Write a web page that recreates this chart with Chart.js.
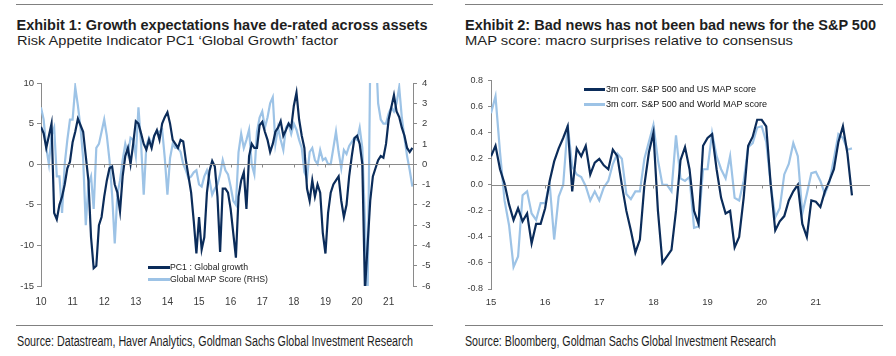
<!DOCTYPE html>
<html><head><meta charset="utf-8">
<script src="https://cdn.jsdelivr.net/npm/chart.js@4.4.1/dist/chart.umd.min.js"></script>
<style>
html,body{margin:0;padding:0;background:#fff;width:896px;height:356px;overflow:hidden;}
body{position:relative;font-family:"Liberation Sans Narrow","Liberation Sans",Arial,sans-serif;color:#1e1e1e;}
.t{position:absolute;white-space:nowrap;transform-origin:0 0;display:inline-block;}
.rule{position:absolute;height:1px;background:#808080;}
.cv{position:absolute;}
.sw{position:absolute;height:2.5px;}
.lg{position:absolute;white-space:nowrap;transform-origin:0 0;display:inline-block;font-family:"Liberation Sans",Arial,sans-serif;}
</style></head><body>

<div class="rule" style="left:16px;top:4px;width:417px"></div>
<div class="rule" style="left:465px;top:4px;width:418px"></div>
<div class="t" data-w="411" style="left:16.5px;top:17.5px;font-size:14.5px;line-height:14px;font-weight:bold">Exhibit 1: Growth expectations have de-rated across assets</div>
<div class="t" data-w="321" style="left:16.5px;top:33.7px;font-size:13px;line-height:13px">Risk Appetite Indicator PC1 ‘Global Growth’ factor</div>
<div class="t" data-w="411" style="left:465px;top:17.5px;font-size:14.5px;line-height:14px;font-weight:bold">Exhibit 2: Bad news has not been bad news for the S&amp;P 500</div>
<div class="t" data-w="328" style="left:465px;top:33.7px;font-size:13px;line-height:13px">MAP score: macro surprises relative to consensus</div>

<canvas id="c1" class="cv" style="left:0;top:60px;width:440px;height:250px" width="440" height="250"></canvas>
<canvas id="c2" class="cv" style="left:448px;top:60px;width:440px;height:250px" width="440" height="250"></canvas>

<div class="sw" style="left:148px;top:266px;width:22px;background:#0b2c5a"></div>
<div class="lg" data-w="78" style="left:170px;top:262px;font-size:9.5px;line-height:10px;color:#222">PC1 : Global growth</div>
<div class="sw" style="left:148px;top:278px;width:22px;background:#9dc3e6"></div>
<div class="lg" data-w="98" style="left:170px;top:274px;font-size:9.5px;line-height:10px;color:#222">Global MAP Score (RHS)</div>

<div class="sw" style="left:584px;top:88px;width:21px;background:#0b2c5a"></div>
<div class="lg" data-w="150" style="left:606px;top:84px;font-size:9px;line-height:10px;color:#111">3m corr. S&amp;P 500 and US MAP score</div>
<div class="sw" style="left:584px;top:103px;width:21px;background:#9dc3e6"></div>
<div class="lg" data-w="161" style="left:606px;top:99px;font-size:9px;line-height:10px;color:#111">3m corr. S&amp;P 500 and World MAP score</div>

<div class="rule" style="left:16px;top:325px;width:417px"></div>
<div class="rule" style="left:465px;top:325px;width:418px"></div>
<div class="t" data-w="396" style="left:16.5px;top:334.4px;font-size:14px;line-height:14px">Source: Datastream, Haver Analytics, Goldman Sachs Global Investment Research</div>
<div class="t" data-w="311" style="left:465px;top:334.4px;font-size:14px;line-height:14px">Source: Bloomberg, Goldman Sachs Global Investment Research</div>

<script>
// ---------- Exhibit 1 data (monthly, from Jan 2010) ----------
const ex1StartYear = 2010;
const ex1TickYears = [2010, 2011, 2012, 2013, 2014, 2015, 2016, 2017, 2018, 2019, 2020, 2021];
const ex1TickLabels = ['10', '11', '12', '13', '14', '15', '16', '17', '18', '19', '20', '21'];
const pc1GlobalGrowth = [
  4.6, 3.8, 2.0, 3.5, 5.0, -6.0, -6.8, -5.0, -4.0, -2.5, -0.5, 0.3,
  2.7, 4.0, 5.6, 4.8, 4.0, 1.0, -2.0, -9.0, -12.8, -12.5, -7.5, -6.5,
  -4.0, -2.0, -0.5, -0.3, -2.5, -3.5, -5.8, -1.5, 1.0, 2.0, 0.0, 2.5,
  5.3, 5.0, 3.8, 2.5, 1.8, 3.0, 2.0, 3.5, 4.2, 3.0, 5.0, 5.8,
  6.4, 5.0, 3.0, 2.5, 2.0, 3.0, 2.8, 0.5, -1.5, -3.5, -7.0, -11.0,
  -6.5, -10.5, -9.0, -3.5, -0.8, 0.4, -0.3, -4.0, -10.8, -3.0, -3.0, -3.5,
  -5.5, -8.5, -11.5, -4.0, -2.0, -1.0, -5.5, 1.0, 2.5, 2.0, 2.0, 4.8,
  5.2, 4.0, 3.0, 1.5, 2.5, 4.0, 4.5, 5.3, 3.5, 4.2, 5.0, 4.5,
  7.2, 8.8, 5.5, 3.5, 2.0, -3.0, -4.5, -2.0, -4.0, -2.5, -3.5, -8.5,
  -11.0, -6.0, -3.5, -2.5, -2.0, -1.5, -4.5, -6.5, -5.0, -1.5, 1.0, 3.2,
  3.5, 2.5, 0.0, -15.5, -10.0, -4.5, -1.5, -0.5, 0.5, 1.0, 0.8, 2.5,
  5.5, 7.0, 8.5, 6.5, 5.8, 4.5, 3.5, 2.0, 1.5, 2.0
];
const globalMapScore = [
  2.8, 2.2, 0.8, 0.0, 1.4, 1.8, -0.6, -0.6, -2.4, 0.0, 1.2, 2.2,
  2.2, 3.8, 2.9, 1.8, 0.3, -3.0, -1.0, -0.6, -2.2, 0.8, 1.0, 1.6,
  2.2, 1.4, 0.2, -1.5, -3.9, -1.5, -0.8, 0.2, 1.0, 0.5, 1.3, 1.2,
  0.4, 2.8, 1.0, -1.5, 0.9, 1.3, 1.0, 1.4, 1.6, 1.6, 1.7, 0.3,
  -1.5, 0.3, 1.0, 0.8, 0.8, 0.6, 0.0, -0.3, -0.7, -0.6, -0.4, -0.3,
  -1.0, -1.1, -0.6, -0.3, -0.8, -1.5, -1.2, -1.0, -0.5, 0.2, -0.3, -0.5,
  -1.1, -1.8, -2.0, 0.6, 1.5, 0.8, 1.2, 1.7, 0.0, -0.5, 1.6, 2.3,
  2.6, 1.8, 2.3, 3.0, 3.3, 1.0, 1.8, 1.2, 0.7, 1.8, 2.0, 1.5,
  2.0, 1.7, 1.2, 0.8, -0.4, -0.7, 0.6, 0.8, 0.2, 0.0, 0.7, 0.2,
  0.3, 0.0, 0.0, 0.8, 1.6, 0.6, -0.2, 0.7, 0.5, 0.9, 1.1, 1.3,
  1.2, 1.8, 0.8, -2.8, -6.5, 5.0, 6.0, 6.0, 3.0, 2.2, 2.0, 2.0,
  2.5, 2.8, 2.6, 3.0, 3.8, 2.3, 1.3, 0.4, -0.3, -1.1
];
const ex1LeftTicks = [10, 5, 0, -5, -10, -15];
const ex1RightTicks = [4, 3, 2, 1, 0, -1, -2, -3, -4, -5, -6];

// ---------- Exhibit 2 data (monthly, from Jan 2015) ----------
const ex2StartYear = 2015;
const ex2TickYears = [2015, 2016, 2017, 2018, 2019, 2020, 2021];
const ex2TickLabels = ['15', '16', '17', '18', '19', '20', '21'];
const corrUsMap = [
  0.22, 0.30, 0.12, 0.01, -0.15, -0.27, -0.18, -0.28, -0.22, -0.45, -0.30, -0.30,
  -0.18, 0.03, 0.18, 0.28, 0.36, 0.45, -0.05, 0.28, 0.22, 0.30, 0.08, 0.17,
  0.20, 0.15, 0.12, 0.27, 0.22, 0.00, -0.20, -0.35, -0.52, -0.42, 0.00, 0.25,
  0.40, -0.20, -0.60, -0.55, -0.50, -0.20, 0.19, 0.29, 0.12, -0.20, -0.30, 0.30,
  0.36, 0.39, 0.12, -0.10, -0.22, -0.20, -0.48, -0.40, -0.10, 0.30, 0.37, 0.50,
  0.50, 0.45, 0.00, -0.35, -0.28, -0.24, -0.12, -0.05, 0.00, -0.30, -0.40, -0.12,
  -0.13, -0.17, -0.05, 0.03, 0.12, 0.33, 0.45, 0.24, -0.08
];
const corrWorldMap = [
  0.55, 0.68, 0.25, -0.12, -0.31, -0.63, -0.55, -0.08, -0.05, -0.22, -0.27, -0.14,
  -0.14, 0.01, -0.42, -0.09, 0.00, 0.46, 0.14, 0.08, 0.06, -0.01, -0.12, -0.05,
  -0.12, -0.02, 0.03, 0.16, 0.24, 0.20, -0.07, -0.11, -0.05, -0.05, 0.20, 0.33,
  0.46, 0.19, 0.00, 0.00, -0.05, 0.38, 0.05, 0.03, 0.06, -0.33, -0.32, 0.12,
  0.12, 0.40, 0.22, 0.12, 0.05, 0.22, -0.10, -0.12, 0.03, 0.29, 0.32, 0.44,
  0.45, 0.33, 0.00, -0.25, -0.18, 0.08, 0.16, 0.32, 0.22, -0.22, -0.07, 0.09,
  0.10, 0.03, -0.07, 0.02, 0.20, 0.39, 0.36, 0.27, 0.28
];
const ex2YTicks = [0.8, 0.6, 0.4, 0.2, 0.0, -0.2, -0.4, -0.6, -0.8];

// ---------- styling ----------
const DARK = '#0b2c5a', LIGHT = '#9dc3e6', AXIS = '#8a8a8a', TICKTXT = '#3a3a3a';
Chart.defaults.font.family = '"Liberation Sans", Arial, sans-serif';
Chart.defaults.animation = false;
Chart.defaults.responsive = false;

const toPoints = (arr, start) => arr.map((v, i) => ({ x: start + i / 12, y: v }));

const zeroTicks = {
  id: 'zeroTicks',
  afterDatasetsDraw(chart, args, opts) {
    const xs = chart.scales.x, ys = chart.scales[opts.yId || 'y'];
    const y0 = Math.round(ys.getPixelForValue(0)) + 0.5;
    const ctx = chart.ctx;
    ctx.save();
    ctx.strokeStyle = AXIS; ctx.lineWidth = 1;
    ctx.beginPath();
    ctx.moveTo(chart.chartArea.left, y0); ctx.lineTo(chart.chartArea.right, y0);
    opts.years.forEach(yr => {
      if (yr === xs.min) return;
      const px = Math.round(xs.getPixelForValue(yr)) + 0.5;
      ctx.moveTo(px, y0); ctx.lineTo(px, y0 + 3);
    });
    ctx.stroke();
    ctx.restore();
  }
};

function yTicksFrom(list) {
  return function (scale) {
    scale.ticks = list.map(v => ({ value: v }));
  };
}

new Chart(document.getElementById('c1'), {
  type: 'line',
  data: {
    datasets: [
      { label: 'PC1 : Global growth', data: toPoints(pc1GlobalGrowth, ex1StartYear), yAxisID: 'y',
        borderColor: DARK, borderWidth: 2.2, pointRadius: 0, tension: 0, order: 1 },
      { label: 'Global MAP Score (RHS)', data: toPoints(globalMapScore, ex1StartYear), yAxisID: 'y2',
        borderColor: LIGHT, borderWidth: 2.2, pointRadius: 0, tension: 0, order: 2 }
    ]
  },
  options: {
    layout: { padding: { top: 23, left: 0, right: 0, bottom: 0 } },
    plugins: { legend: { display: false }, tooltip: { enabled: false },
      zeroTicks: { years: ex1TickYears, yId: 'y' } },
    scales: {
      x: { type: 'linear', min: 2010, max: 2021.77,
        grid: { display: false }, border: { display: false },
        afterFit: s => { s.height = 24; },
        afterBuildTicks: s => { s.ticks = ex1TickYears.map(v => ({ value: v })); },
        ticks: { padding: 2, color: TICKTXT, font: { size: 10 }, maxRotation: 0, autoSkip: false,
          callback: v => ex1TickLabels[ex1TickYears.indexOf(v)] } },
      y: { position: 'left', min: -15, max: 10,
        grid: { drawOnChartArea: false, tickLength: 4, color: AXIS },
        border: { display: true, color: AXIS },
        afterFit: s => { s.width = 41; },
        afterBuildTicks: yTicksFrom(ex1LeftTicks),
        ticks: { padding: 3, color: TICKTXT, font: { size: 9.5 }, callback: v => String(v) } },
      y2: { position: 'right', min: -6, max: 4,
        grid: { drawOnChartArea: false, tickLength: 4, color: AXIS },
        border: { display: true, color: AXIS },
        afterFit: s => { s.width = 27; },
        afterBuildTicks: yTicksFrom(ex1RightTicks),
        ticks: { padding: 5, color: TICKTXT, font: { size: 9.5 }, callback: v => String(v) } }
    }
  },
  plugins: [zeroTicks]
});

new Chart(document.getElementById('c2'), {
  type: 'line',
  data: {
    datasets: [
      { label: '3m corr. S&P 500 and US MAP score', data: toPoints(corrUsMap, ex2StartYear), yAxisID: 'y',
        borderColor: DARK, borderWidth: 2.2, pointRadius: 0, tension: 0, order: 1 },
      { label: '3m corr. S&P 500 and World MAP score', data: toPoints(corrWorldMap, ex2StartYear), yAxisID: 'y',
        borderColor: LIGHT, borderWidth: 2.2, pointRadius: 0, tension: 0, order: 2 }
    ]
  },
  options: {
    layout: { padding: { top: 20.7, left: 0, right: 18, bottom: 0 } },
    plugins: { legend: { display: false }, tooltip: { enabled: false },
      zeroTicks: { years: ex2TickYears, yId: 'y' } },
    scales: {
      x: { type: 'linear', min: 2015, max: 2022,
        grid: { display: false }, border: { display: false },
        afterFit: s => { s.height = 21; },
        afterBuildTicks: s => { s.ticks = ex2TickYears.map(v => ({ value: v })); },
        ticks: { padding: 0, color: TICKTXT, font: { size: 9.5 }, maxRotation: 0, autoSkip: false,
          callback: v => ex2TickLabels[ex2TickYears.indexOf(v)] } },
      y: { position: 'left', min: -0.8, max: 0.8,
        grid: { drawOnChartArea: false, tickLength: 3, color: AXIS },
        border: { display: true, color: AXIS },
        afterFit: s => { s.width = 43; },
        afterBuildTicks: yTicksFrom(ex2YTicks),
        ticks: { padding: 5, color: TICKTXT, font: { size: 9 }, callback: v => Number(v).toFixed(1) } }
    }
  },
  plugins: [zeroTicks]
});

// fit text widths to the reference layout
document.querySelectorAll('[data-w]').forEach(el => {
  const w = el.getBoundingClientRect().width;
  const target = parseFloat(el.dataset.w);
  if (w > 0) el.style.transform = 'scaleX(' + (target / w).toFixed(4) + ')';
});
</script>
</body></html>
